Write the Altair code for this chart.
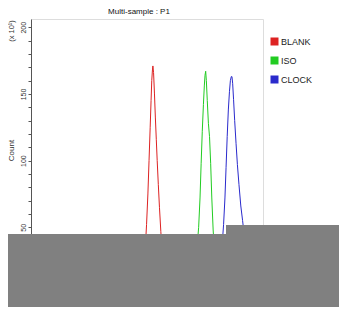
import altair as alt
import pandas as pd

# ---- data ----
series_names = ["BLANK", "ISO", "CLOCK"]
series_colors = ["#dd2222", "#22cc22", "#2a2acc"]

blank_x = [470, 485, 495, 503, 510, 516, 521, 526, 530, 533, 536, 538, 541, 545, 549, 553, 557, 562, 567, 573, 580, 590, 605]
blank_y = [0, 5, 15, 30, 52, 75, 100, 125, 145, 160, 168, 171, 166, 150, 132, 116, 100, 82, 65, 47, 28, 10, 0]

iso_x = [700, 715, 725, 733, 740, 746, 751, 756, 761, 765, 768, 771, 774, 778, 783, 788, 793, 798, 804, 812, 822, 835]
iso_y = [0, 8, 20, 35, 50, 72, 98, 122, 142, 156, 164, 167, 160, 145, 128, 118, 98, 72, 48, 25, 8, 0]

clock_x = [810, 825, 835, 843, 850, 856, 861, 866, 871, 876, 880, 884, 887, 890, 894, 899, 905, 911, 918, 926, 934, 942, 952, 965, 980]
clock_y = [0, 8, 20, 35, 52, 72, 95, 118, 138, 152, 160, 163, 163, 158, 146, 130, 113, 97, 82, 66, 55, 43, 28, 12, 0]

y_ticks = list(range(0, 210, 10))

rows = []
for name, xs, ys in [("BLANK", blank_x, blank_y), ("ISO", iso_x, iso_y), ("CLOCK", clock_x, clock_y)]:
    for i, (a, b) in enumerate(zip(xs, ys)):
        rows.append({"sample": name, "channel": a, "count": b, "order": i})
df = pd.DataFrame(rows)

FONT = "Liberation Sans Narrow, Arial Narrow, Liberation Sans, sans-serif"

xenc = alt.X("channel:Q", scale=alt.Scale(domain=[0, 1024], nice=False, zero=False),
             axis=alt.Axis(title=None, grid=False, labels=False, ticks=False))
yenc = alt.Y("count:Q", scale=alt.Scale(domain=[0, 206.2], nice=False),
             axis=alt.Axis(title="Count", values=y_ticks, tickCount=40, grid=False,
                           labelExpr="datum.value % 50 == 0 && datum.value > 0 ? datum.label : ''",
                           labelOverlap=False, labelBound=False, labelFlush=False,
                           labelAngle=270, labelAlign="center", labelBaseline="middle",
                           labelFont=FONT, labelFontSize=7, labelColor="#333",
                           labelPadding=5, tickSize=3, tickColor="#555", domainColor="#555",
                           titleFont=FONT, titleFontSize=8, titleFontWeight="normal",
                           titleColor="#333", titleAngle=270, titleX=-19.5, titleY=131,
                           titleAlign="center", titleBaseline="middle"))

lines = alt.Chart(df).mark_line(strokeWidth=1, clip=True).encode(
    x=xenc, y=yenc,
    color=alt.Color("sample:N", scale=alt.Scale(domain=series_names, range=series_colors),
                    legend=alt.Legend(title=None, orient="none", legendX=239, legendY=18,
                                      symbolType="square", symbolSize=1, symbolOpacity=1,
                                      symbolStrokeWidth=7,
                                      labelFont=FONT, labelFontSize=9, labelColor="#222",
                                      labelOffset=2, rowPadding=-26, padding=0)),
    order="order:Q",
)

exp_text = alt.Chart(pd.DataFrame({"t": ["(x 10\u00b9)"]})).mark_text(
    angle=270, font=FONT, fontSize=7.5, color="#333", align="center", baseline="middle"
).encode(x=alt.value(-19.5), y=alt.value(12), text="t:N")

# gray redaction blocks present in the reference picture
box_a = alt.Chart(pd.DataFrame({"k": [1]})).mark_rect(color="#808080").encode(
    x=alt.value(-26), x2=alt.value(320), y=alt.value(215), y2=alt.value(320))
box_b = alt.Chart(pd.DataFrame({"k": [1]})).mark_rect(color="#808080").encode(
    x=alt.value(195), x2=alt.value(320), y=alt.value(206), y2=alt.value(216))

chart = alt.layer(lines, exp_text, box_a, box_b).properties(
    width=232, height=275,
    title=alt.TitleParams("Multi-sample : P1", font=FONT, fontSize=8, fontWeight="normal",
                          color="#111", anchor="middle", dx=-8, offset=3),
    autosize=alt.AutoSizeParams(type="none"),
    padding={"left": 23, "top": 11, "right": 76, "bottom": 13},
).configure_view(stroke="#888", strokeWidth=1).configure(background="white")

chart.save("out.html", embed_options={"renderer": "svg", "actions": False})
